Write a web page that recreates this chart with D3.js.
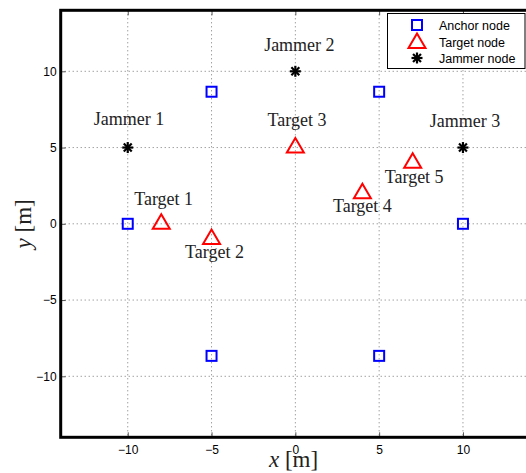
<!DOCTYPE html>
<html><head><meta charset="utf-8">
<script src="https://cdn.jsdelivr.net/npm/d3@7"></script>
<style>body{margin:0;background:#fff}svg{display:block}</style>
</head><body>
<script>
const anchorX = [-10, -5, 5, 10, -5, 5];
const anchorY = [0, 8.66, 8.66, 0, -8.66, -8.66];
const targetX = [-8, -5, 0, 4, 7];
const targetY = [0, -1, 5, 2, 4];
const jammerX = [-10, 0, 10];
const jammerY = [5, 10, 5];
const labelText = ["Jammer 1","Jammer 2","Jammer 3","Target 1","Target 2","Target 3","Target 4","Target 5"];
const labelX = [-9.92, 0.24, 10.12, -7.86, -4.82, 0.1, 4.0, 7.09];
const labelY = [6.48, 11.33, 6.37, 1.23, -2.24, 6.4, 0.79, 2.67];
const tickVals = [-10, -5, 0, 5, 10];
const legendLabels = ["Anchor node", "Target node", "Jammer node"];

const W = 526, H = 473;
const svg = d3.select("body").append("svg").attr("width", W).attr("height", H);
const x = d3.scaleLinear().domain([-14, 14]).range([60.7, 530]);
const y = d3.scaleLinear().domain([-14, 14]).range([437.3, 10.3]);

// grid
const g = svg.append("g");
g.selectAll(".gx").data(tickVals).enter().append("line")
  .attr("x1", d => x(d)).attr("x2", d => x(d)).attr("y1", y(14)).attr("y2", y(-14))
  .attr("stroke", "#777").attr("stroke-width", 1).attr("stroke-dasharray", "1,3");
g.selectAll(".gy").data(tickVals).enter().append("line")
  .attr("y1", d => y(d)).attr("y2", d => y(d)).attr("x1", x(-14)).attr("x2", x(14))
  .attr("stroke", "#777").attr("stroke-width", 1).attr("stroke-dasharray", "1,3");

// axes
const fmt = d => d < 0 ? "\u2212" + Math.abs(d) : String(d);
const xAxis = d3.axisBottom(x).tickValues(tickVals).tickFormat(fmt).tickSizeInner(-5).tickSizeOuter(0).tickPadding(8);
const yAxis = d3.axisLeft(y).tickValues(tickVals).tickFormat(fmt).tickSizeInner(-5).tickSizeOuter(0).tickPadding(4);
const xa = svg.append("g").attr("transform", `translate(0,${y(-14)})`).call(xAxis);
const ya = svg.append("g").attr("transform", `translate(${x(-14)},0)`).call(yAxis);
[xa, ya].forEach(a => {
  a.select(".domain").remove();
  a.selectAll(".tick line").attr("stroke", "#555");
  a.selectAll("text").attr("font-family", "Liberation Sans, Arial, sans-serif").attr("font-size", 12).attr("fill", "#000");
});
const xat = svg.append("g").attr("transform", `translate(0,${y(14)})`).call(d3.axisTop(x).tickValues(tickVals).tickFormat("").tickSizeInner(-5).tickSizeOuter(0));
xat.select(".domain").remove(); xat.selectAll(".tick line").attr("stroke", "#555");

// frame
svg.append("rect").attr("x", x(-14)).attr("y", y(14)).attr("width", x(14) - x(-14)).attr("height", y(-14) - y(14))
  .attr("fill", "none").attr("stroke", "#000").attr("stroke-width", 3);

// markers
function square(sel, cx, cy) {
  sel.append("rect").attr("x", cx - 5).attr("y", cy - 5).attr("width", 10).attr("height", 10)
    .attr("fill", "none").attr("stroke", "#0000ff").attr("stroke-width", 2);
}
function tri(sel, cx, cy) {
  const p = [[cx, cy - 9.5], [cx + 8.5, cy + 5], [cx - 8.5, cy + 5]];
  sel.append("polygon").attr("points", p.map(q => q.join(",")).join(" "))
    .attr("fill", "none").attr("stroke", "#ff0000").attr("stroke-width", 2);
}
function star(sel, cx, cy) {
  const r = 5.5;
  [[0, r], [r, 0], [r * 0.72, r * 0.72], [r * 0.72, -r * 0.72]].forEach(([dx, dy]) => {
    sel.append("line").attr("x1", cx - dx).attr("y1", cy - dy).attr("x2", cx + dx).attr("y2", cy + dy)
      .attr("stroke", "#000").attr("stroke-width", 2.2);
  });
}
const m = svg.append("g");
anchorX.forEach((v, i) => square(m, x(v), y(anchorY[i])));
targetX.forEach((v, i) => tri(m, x(v), y(targetY[i])));
jammerX.forEach((v, i) => star(m, x(v), y(jammerY[i])));

// labels
svg.selectAll(".lbl").data(labelText).enter().append("text")
  .attr("x", (d, i) => x(labelX[i])).attr("y", (d, i) => y(labelY[i]))
  .attr("text-anchor", "middle").attr("font-family", "Liberation Serif, Times New Roman, serif")
  .attr("font-size", 18).attr("fill", "#222").text(d => d);

// axis titles
const xt = svg.append("text").attr("x", 293.5).attr("y", 467).attr("text-anchor", "middle")
  .attr("font-family", "Liberation Serif, Times New Roman, serif").attr("font-size", 23).attr("fill", "#222");
xt.append("tspan").attr("font-style", "italic").text("x");
xt.append("tspan").text(" [m]");
const yt = svg.append("text").attr("transform", `translate(31,${y(0)}) rotate(-90)`).attr("text-anchor", "middle")
  .attr("font-family", "Liberation Serif, Times New Roman, serif").attr("font-size", 23).attr("fill", "#222");
yt.append("tspan").attr("font-style", "italic").text("y");
yt.append("tspan").text(" [m]");

// legend
const lg = svg.append("g");
lg.append("rect").attr("x", 387.5).attr("y", 13.5).attr("width", 137.5).attr("height", 55)
  .attr("fill", "#fff").attr("stroke", "#000").attr("stroke-width", 1);
const ly = [25, 42, 58];
square(lg, 417, ly[0]);
tri(lg, 417, ly[1] + 1);
star(lg, 417, ly[2]);
lg.selectAll(".lt").data(legendLabels).enter().append("text")
  .attr("x", 439).attr("y", (d, i) => ly[i] + 4.5)
  .attr("font-family", "Liberation Sans, Arial, sans-serif").attr("font-size", 12.5).attr("fill", "#000").text(d => d);
</script>
</body></html>
